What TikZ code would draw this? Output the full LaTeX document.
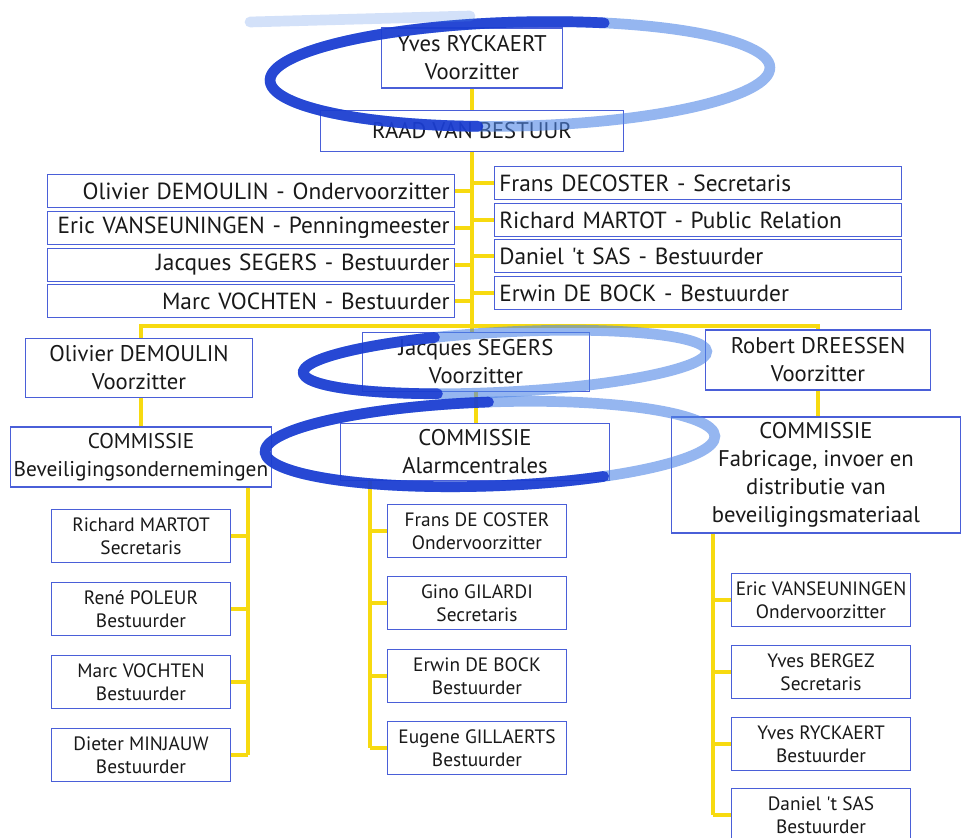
\documentclass[tikz,border=0pt]{standalone}
\usepackage{fontspec}
\setmainfont{PT Sans}
\usetikzlibrary{calc}
\definecolor{boxblue}{HTML}{4A5FD8}
\definecolor{lineyellow}{HTML}{F7DA10}
\definecolor{markerblue}{HTML}{1536CF}
\definecolor{markerlight}{HTML}{4F86E6}
\tikzset{
    box/.style={draw=boxblue, line width=1.1pt, fill=white, align=center,
        inner sep=1pt, text=black!90, font=\fontsize{17}{21}\selectfont},
    row left/.style={box, text width=298pt, inner xsep=3.5pt, inner ysep=0pt,
        minimum height=25pt, align=right, font=\fontsize{17.5}{21}\selectfont},
    row right/.style={row left, align=left},
    member/.style={box, minimum width=134pt, minimum height=40pt,
        font=\fontsize{14.5}{17}\selectfont},
    link/.style={draw=lineyellow, line width=2.3pt},
    marker/.style={draw=markerblue, line width=8pt, opacity=0.85, line cap=round},
    marker light/.style={marker, draw=markerlight, opacity=0.6}
}

\begin{document}
\begin{tikzpicture}[x=0.75pt, y=-0.75pt]
    \useasboundingbox (0,0) rectangle (963,838);

    % raad van bestuur
    \node[box, minimum width=136pt, minimum height=45pt] (yves) at (472,58) {Yves RYCKAERT\\Voorzitter};
    \node[box, minimum width=227pt, minimum height=31pt] (raad) at (472,131) {RAAD VAN BESTUUR};

    \node[row left] (bl1) at (251,191) {Olivier DEMOULIN - Ondervoorzitter};
    \node[row left] (bl2) at (251,228) {Eric VANSEUNINGEN - Penningmeester};
    \node[row left] (bl3) at (251,265) {Jacques SEGERS - Bestuurder};
    \node[row left] (bl4) at (251,301) {Marc VOCHTEN - Bestuurder};

    \node[row right] (br1) at (698,183) {Frans DECOSTER - Secretaris};
    \node[row right] (br2) at (698,220) {Richard MARTOT - Public Relation};
    \node[row right] (br3) at (698,256) {Daniel \textquotesingle t SAS - Bestuurder};
    \node[row right] (br4) at (698,293) {Erwin DE BOCK - Bestuurder};

    % voorzitters en commissies
    \node[box, minimum width=170pt, minimum height=44pt] (vz1) at (139,368) {Olivier DEMOULIN\\Voorzitter};
    \node[box, minimum width=170pt, minimum height=44pt] (vz2) at (476,362) {Jacques SEGERS\\Voorzitter};
    \node[box, minimum width=169pt, minimum height=45pt] (vz3) at (818,360) {Robert DREESSEN\\Voorzitter};

    \node[box, minimum width=196pt, minimum height=45pt, font=\fontsize{16}{21}\selectfont] (com1) at (141,457) {COMMISSIE\\Beveiligingsondernemingen};
    \node[box, minimum width=202pt, minimum height=43pt] (com2) at (475,452) {COMMISSIE\\Alarmcentrales};
    \node[box, minimum width=217pt, minimum height=87pt] (com3) at (816,475) {COMMISSIE\\Fabricage, invoer en\\distributie van\\beveiligingsmateriaal};

    % leden
    \node[member] (m11) at (141,536) {Richard MARTOT\\Secretaris};
    \node[member] (m12) at (141,609) {René POLEUR\\Bestuurder};
    \node[member] (m13) at (141,682) {Marc VOCHTEN\\Bestuurder};
    \node[member] (m14) at (141,755) {Dieter MINJAUW\\Bestuurder};

    \node[member] (m21) at (477,531) {Frans DE COSTER\\Ondervoorzitter};
    \node[member] (m22) at (477,603) {Gino GILARDI\\Secretaris};
    \node[member] (m23) at (477,676) {Erwin DE BOCK\\Bestuurder};
    \node[member] (m24) at (477,748) {Eugene GILLAERTS\\Bestuurder};

    \node[member] (m31) at (821,600) {Eric VANSEUNINGEN\\Ondervoorzitter};
    \node[member] (m32) at (821,672) {Yves BERGEZ\\Secretaris};
    \node[member] (m33) at (821,744) {Yves RYCKAERT\\Bestuurder};
    \node[member] (m34) at (821,815) {Daniel \textquotesingle t SAS\\Bestuurder};

    % gele lijnen
    \coordinate (bar) at (472,326);
    \coordinate (spine1) at (248,0);
    \coordinate (spine2) at (370,0);
    \coordinate (spine3) at (713,0);
    \draw[link] (yves) -- (raad);
    \draw[link] (raad) -- (bar);
    \foreach \n in {1,...,4} {
        \draw[link] (bl\n.east) -- (bl\n.east -| bar);
        \draw[link] (br\n.west) -- (br\n.west -| bar);
    }
    \draw[link] (vz1.north -| com1) |- (bar) -| (vz3.north);
    \draw[link] (bar) -- (bar |- vz2.north);
    \draw[link] (vz1.south -| com1) -- (com1);
    \draw[link] (vz2) -- (vz2 |- com2.north);
    \draw[link] (vz3) -- (vz3 |- com3.north);

    \draw[link] (spine1 |- com1.south) -- (spine1 |- m14);
    \draw[link] (spine2 |- com2.south) -- (spine2 |- m24);
    \draw[link] (spine3 |- com3.south) -- (spine3 |- m34);
    \foreach \n in {1,...,4} {
        \draw[link] (m1\n.east) -- (m1\n -| spine1);
        \draw[link] (m2\n.west) -- (m2\n -| spine2);
        \draw[link] (m3\n.west) -- (m3\n -| spine3);
    }

    % blauwe stift
    \draw[marker light, rotate around={1.5:(520,74)}] (520,74) ellipse [x radius=250, y radius=52];
    \draw[marker, rotate around={1.5:(520,74)}] (520,74) ++(100:250 and 52) arc [start angle=100, end angle=290, x radius=250, y radius=52];
    \draw[marker light, opacity=0.25] (250,22) -- (470,16);
    \draw[marker light, rotate around={3:(505,362)}] (505,362) ellipse [x radius=202, y radius=30];
    \draw[marker, rotate around={3:(505,362)}] (505,362) ++(110:202 and 30) arc [start angle=110, end angle=250, x radius=202, y radius=30];
    \draw[marker light, rotate around={2:(490,444)}] (490,444) ellipse [x radius=225, y radius=42];
    \draw[marker, rotate around={2:(490,444)}] (490,444) ++(60:225 and 42) arc [start angle=60, end angle=270, x radius=225, y radius=42];
\end{tikzpicture}
\end{document}
